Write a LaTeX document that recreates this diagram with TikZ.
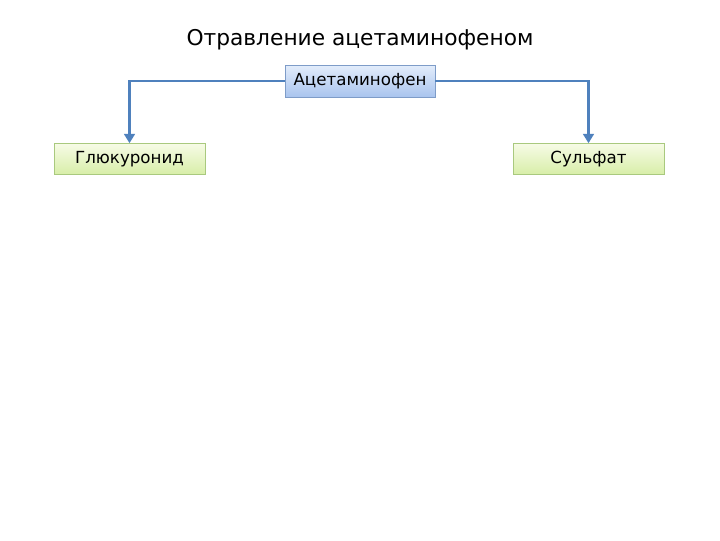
\documentclass[tikz,border=0pt]{standalone}
\usepackage{fontspec}
\setmainfont{DejaVu Sans}
\usetikzlibrary{arrows.meta}
\definecolor{linkblue}{HTML}{4F81BD}
\definecolor{bluetop}{HTML}{E3EDFB}
\definecolor{bluebot}{HTML}{A9C4EE}
\definecolor{blueborder}{HTML}{7E9CC8}
\definecolor{greentop}{HTML}{F6FBE6}
\definecolor{greenbot}{HTML}{D8EEA8}
\definecolor{greenborder}{HTML}{A9C97E}
\newlength{\pxu}
\setlength{\pxu}{0.75pt}
\tikzset{
  bluebox/.style={draw=blueborder, top color=bluetop, bottom color=bluebot, minimum width=150\pxu, minimum height=32\pxu, inner sep=0pt, font=\fontsize{12.5}{14}\selectfont},
  greenbox/.style={draw=greenborder, top color=greentop, bottom color=greenbot, minimum width=151\pxu, minimum height=31\pxu, inner sep=0pt, font=\fontsize{12.5}{14}\selectfont},
  link/.style={draw=linkblue, line width=2.2pt, -{Triangle[length=7pt,width=8pt]}}
}
\begin{document}
\begin{tikzpicture}[x=0.75pt,y=-0.75pt]
\useasboundingbox (0,0) rectangle (720,540);
\node (title) at (360,40) {\fontsize{16.3}{19}\selectfont Отравление ацетаминофеном};
\node[bluebox] (acet) at (360,81) {Ацетаминофен};
\node[greenbox] (gluc) at (129.5,159) {Глюкуронид};
\node[greenbox] (sulf) at (588.5,159) {Сульфат};
\draw[link] (acet.west) -| (gluc.north);
\draw[link] (acet.east) -| (sulf.north);
\end{tikzpicture}
\end{document}
